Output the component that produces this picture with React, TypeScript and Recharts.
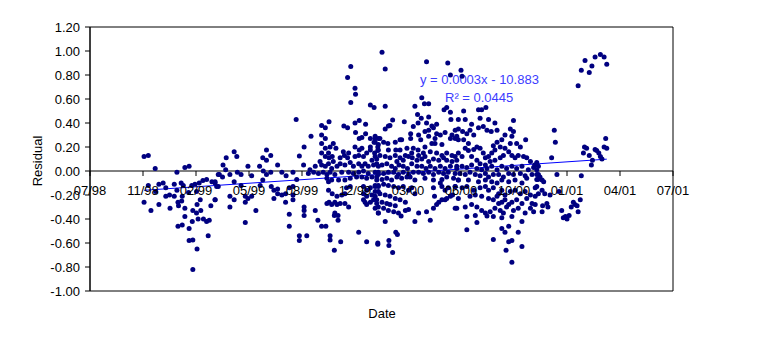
import React from "react";
import {
  Customized,
  ReferenceArea,
  ReferenceLine,
  Scatter,
  ScatterChart,
  XAxis,
  YAxis,
} from "recharts";

// Excel date serial of the axis minimum (24 Jul 1998); data days are offsets from it
const DATE_ORIGIN = 36000;

// [day offset, residual]
const late1998 = [
  [102, 0.12], [110, 0.13], [123, 0.02], [164, -0.01], [179, 0.03], [187, 0.04], [242, -0.03],
  [110, -0.12], [124, -0.17], [130, -0.11], [138, -0.1], [143, -0.14], [143, -0.21], [150, -0.2],
  [159, -0.21], [159, -0.11], [164, -0.16], [172, -0.1], [176, -0.12], [174, -0.21], [186, -0.18],
  [192, -0.12], [198, -0.11], [206, -0.1], [213, -0.08], [220, -0.07], [230, -0.09], [236, -0.1],
  [102, -0.26], [115, -0.33], [130, -0.28], [151, -0.31], [166, -0.26], [167, -0.29], [173, -0.25],
  [179, -0.31], [179, -0.38], [166, -0.46], [174, -0.45], [187, -0.48], [187, -0.58], [194, -0.575],
  [194, -0.33], [201, -0.35], [202, -0.28], [204, -0.4], [193, -0.42], [209, -0.33], [214, -0.4],
  [220, -0.42], [225, -0.41], [228, -0.29], [208, -0.24], [236, -0.24], [223, -0.54], [202, -0.65],
  [194, -0.82], [201, -0.17], [239, -0.13],
];

const mid1999 = [
  [389, 0.43], [395, 0.125], [272, 0.16], [277, 0.12], [257, 0.11], [251, 0.05], [256, 0.01],
  [244, -0.03], [250, -0.05], [264, -0.03], [272, -0.09], [278, -0.01], [285, -0.03], [298, 0.04],
  [305, -0.04], [320, 0.04], [326, 0.11], [333, 0.175], [333, 0.09], [341, 0.13], [327, 0.0],
  [333, -0.03], [341, -0.01], [326, -0.075], [321, -0.12], [354, 0.05], [362, -0.01], [370, -0.04],
  [383, -0.01], [390, -0.07], [383, -0.13], [236, -0.09], [242, -0.13], [236, -0.24], [264, -0.21],
  [264, -0.3], [272, -0.24], [285, -0.12], [293, -0.21], [298, -0.23], [293, -0.26], [305, -0.21],
  [313, -0.33], [293, -0.43], [342, -0.13], [347, -0.16], [347, -0.23], [354, -0.15], [354, -0.19],
  [362, -0.2], [369, -0.19], [369, -0.26], [376, -0.14], [383, -0.2], [383, -0.24], [376, -0.36],
  [376, -0.46], [395, -0.54], [395, -0.58],
];

const late1999 = [
  [492, 0.87], [486, 0.78], [500, 0.69], [501, 0.64], [492, 0.57], [529, 0.55], [536, 0.53],
  [417, 0.29], [404, 0.2], [403, 0.05], [437, 0.38], [444, 0.36], [451, 0.41], [479, 0.375],
  [486, 0.36], [500, 0.4], [508, 0.42], [520, 0.39], [501, 0.32], [520, 0.31], [513, 0.28],
  [508, 0.27], [529, 0.27], [538, 0.27], [544, 0.27], [536, 0.24], [543, 0.2], [529, 0.2],
  [437, 0.3], [444, 0.27], [437, 0.23], [444, 0.19], [453, 0.2], [459, 0.23], [464, 0.19],
  [450, 0.15], [437, 0.15], [444, 0.12], [451, 0.11], [457, 0.12], [459, 0.08], [472, 0.11],
  [478, 0.16], [480, 0.13], [488, 0.15], [486, 0.11], [500, 0.2], [508, 0.175], [513, 0.19],
  [500, 0.12], [507, 0.13], [516, 0.12], [522, 0.15], [529, 0.175], [537, 0.15], [543, 0.17],
  [541, 0.1], [532, 0.09], [425, 0.04], [434, 0.08], [437, 0.05], [444, 0.04], [450, 0.06],
  [456, 0.02], [466, 0.04], [472, 0.06], [481, 0.05], [491, 0.07], [497, 0.04], [507, 0.06],
  [513, 0.04], [519, 0.06], [525, 0.04], [535, 0.05], [544, 0.04], [415, 0.01], [412, -0.02],
  [422, -0.01], [431, -0.02], [440, -0.01], [447, -0.03], [453, -0.01], [462, -0.03], [475, -0.01],
  [488, -0.01], [497, -0.02], [507, -0.01], [516, 0.0], [525, -0.02], [538, -0.01], [544, -0.03],
  [513, -0.05], [522, -0.06], [532, -0.05], [503, -0.05], [450, -0.09], [456, -0.075], [447, -0.06],
  [469, -0.075], [481, -0.075], [491, -0.06], [541, -0.075], [450, -0.16], [457, -0.19], [466, -0.21],
  [475, -0.2], [481, -0.19], [484, -0.14], [491, -0.13], [516, -0.13], [522, -0.16], [529, -0.14],
  [538, -0.13], [544, -0.12], [516, -0.19], [522, -0.21], [532, -0.2], [538, -0.21], [544, -0.17],
  [535, -0.24], [541, -0.27], [529, -0.26], [519, -0.26], [522, -0.28], [516, -0.24], [447, -0.27],
  [451, -0.26], [456, -0.28], [462, -0.26], [466, -0.28], [472, -0.27], [481, -0.27], [488, -0.3],
  [462, -0.35], [468, -0.37], [468, -0.41], [461, -0.37], [544, -0.35], [538, -0.31], [404, -0.3],
  [404, -0.33], [404, -0.37], [425, -0.33], [430, -0.41], [437, -0.46], [445, -0.46], [409, -0.54],
  [453, -0.54], [453, -0.575], [461, -0.66], [473, -0.59], [507, -0.51], [522, -0.59], [543, -0.61],
];

const early2000 = [
  [551, 0.99], [557, 0.85], [635, 0.91], [675, 0.9], [680, 0.8], [626, 0.61], [631, 0.56],
  [639, 0.56], [557, 0.54], [613, 0.54], [668, 0.51], [673, 0.53], [680, 0.49], [681, 0.43],
  [695, 0.43], [571, 0.425], [566, 0.38], [557, 0.35], [563, 0.375], [593, 0.41], [618, 0.47],
  [625, 0.44], [639, 0.45], [619, 0.4], [610, 0.37], [635, 0.4], [645, 0.375], [654, 0.39],
  [648, 0.36], [639, 0.34], [632, 0.33], [654, 0.31], [661, 0.3], [670, 0.32], [683, 0.3],
  [689, 0.34], [692, 0.29], [680, 0.27], [605, 0.31], [605, 0.27], [620, 0.3], [624, 0.26],
  [639, 0.29], [651, 0.27], [645, 0.23], [632, 0.2], [651, 0.23], [664, 0.22], [538, 0.29],
  [547, 0.27], [538, 0.24], [554, 0.24], [544, 0.22], [562, 0.23], [576, 0.24], [585, 0.26],
  [588, 0.26], [598, 0.19], [610, 0.19], [619, 0.175], [544, 0.175], [563, 0.175], [577, 0.175],
  [585, 0.175], [595, 0.13], [607, 0.15], [620, 0.13], [629, 0.15], [642, 0.16], [654, 0.15],
  [664, 0.13], [673, 0.15], [683, 0.13], [689, 0.12], [538, 0.12], [547, 0.13], [557, 0.12],
  [566, 0.11], [576, 0.13], [579, 0.08], [585, 0.11], [591, 0.09], [601, 0.12], [608, 0.11],
  [617, 0.09], [626, 0.1], [632, 0.12], [639, 0.08], [648, 0.1], [658, 0.09], [667, 0.11],
  [673, 0.09], [683, 0.08], [692, 0.09], [541, 0.06], [551, 0.05], [560, 0.06], [569, 0.04],
  [576, 0.02], [583, 0.05], [591, 0.04], [599, 0.02], [607, 0.06], [617, 0.04], [626, 0.04],
  [634, 0.02], [642, 0.04], [651, 0.02], [661, 0.04], [670, 0.02], [680, 0.04], [692, 0.02],
  [544, -0.01], [554, -0.02], [563, -0.01], [573, -0.01], [582, -0.03], [591, -0.01], [601, -0.03],
  [610, -0.01], [620, -0.01], [629, -0.02], [639, -0.01], [648, -0.03], [658, -0.01], [667, -0.02],
  [676, -0.01], [689, -0.02], [541, -0.05], [551, -0.07], [560, -0.06], [569, -0.075], [579, -0.05],
  [588, -0.06], [598, -0.05], [604, -0.05], [613, -0.075], [632, -0.06], [648, -0.075], [664, -0.07],
  [673, -0.05], [686, -0.06], [695, -0.075], [538, -0.12], [544, -0.13], [554, -0.11], [563, -0.12],
  [573, -0.13], [582, -0.14], [591, -0.13], [601, -0.16], [607, -0.14], [613, -0.19], [538, -0.17],
  [547, -0.19], [557, -0.2], [566, -0.21], [576, -0.23], [585, -0.24], [595, -0.26], [541, -0.24],
  [551, -0.26], [560, -0.27], [566, -0.28], [576, -0.29], [544, -0.3], [554, -0.31], [563, -0.33],
  [573, -0.34], [582, -0.35], [587, -0.375], [595, -0.33], [601, -0.32], [544, -0.35], [557, -0.42],
  [613, -0.42], [620, -0.35], [635, -0.34], [642, -0.41], [648, -0.31], [654, -0.28], [658, -0.26],
  [664, -0.24], [670, -0.24], [673, -0.23], [680, -0.21], [684, -0.2], [689, -0.31], [648, -0.14],
  [661, -0.1], [664, -0.13], [670, -0.16], [676, -0.14], [689, -0.13], [650, -0.21], [577, -0.51],
  [580, -0.53], [564, -0.58], [564, -0.62], [543, -0.6], [571, -0.68],
];

const late2000 = [
  [700, 0.84], [702, 0.79], [733, 0.51], [739, 0.51], [747, 0.53], [736, 0.44], [705, 0.5],
  [708, 0.43], [720, 0.39], [752, 0.43], [764, 0.4], [799, 0.42], [793, 0.35], [799, 0.33],
  [695, 0.35], [703, 0.33], [711, 0.31], [717, 0.34], [724, 0.3], [733, 0.36], [742, 0.37],
  [749, 0.34], [757, 0.33], [768, 0.34], [783, 0.3], [796, 0.29], [822, 0.26], [805, 0.23],
  [812, 0.2], [793, 0.23], [777, 0.26], [768, 0.24], [761, 0.21], [689, 0.27], [695, 0.26],
  [705, 0.26], [714, 0.23], [708, 0.19], [714, 0.17], [724, 0.18], [730, 0.2], [736, 0.19],
  [742, 0.15], [746, 0.11], [752, 0.12], [758, 0.15], [764, 0.175], [774, 0.2], [783, 0.19],
  [790, 0.16], [796, 0.13], [802, 0.11], [808, 0.13], [818, 0.12], [824, 0.11], [831, 0.08],
  [839, 0.05], [843, 0.07], [695, 0.15], [702, 0.12], [720, 0.12], [730, 0.09], [736, 0.06],
  [746, 0.05], [755, 0.08], [764, 0.09], [774, 0.11], [780, 0.13], [692, 0.04], [702, 0.04],
  [711, 0.03], [720, 0.05], [730, 0.02], [739, 0.01], [749, 0.02], [758, 0.04], [768, 0.01],
  [777, 0.04], [786, 0.02], [796, 0.04], [805, 0.02], [815, 0.04], [827, 0.01], [837, 0.03],
  [846, 0.04], [698, -0.02], [708, -0.03], [717, -0.01], [727, -0.03], [736, -0.04], [746, -0.02],
  [752, -0.05], [761, -0.03], [771, -0.03], [780, -0.05], [790, -0.02], [799, -0.03], [812, -0.02],
  [821, -0.04], [834, -0.03], [843, -0.03], [695, -0.075], [714, -0.075], [733, -0.09], [746, -0.075],
  [758, -0.09], [768, -0.1], [777, -0.075], [790, -0.09], [802, -0.075], [815, -0.1], [824, -0.06],
  [843, -0.07], [689, -0.13], [702, -0.14], [711, -0.13], [724, -0.16], [736, -0.14], [746, -0.13],
  [752, -0.16], [761, -0.14], [771, -0.19], [777, -0.16], [783, -0.2], [793, -0.17], [802, -0.16],
  [812, -0.19], [821, -0.17], [831, -0.2], [840, -0.14], [846, -0.19], [717, -0.21], [727, -0.2],
  [739, -0.21], [752, -0.23], [761, -0.24], [768, -0.21], [771, -0.27], [777, -0.26], [783, -0.24],
  [790, -0.28], [796, -0.26], [805, -0.24], [815, -0.27], [824, -0.23], [834, -0.27], [840, -0.28],
  [695, -0.23], [692, -0.31], [708, -0.3], [720, -0.28], [730, -0.3], [739, -0.33], [746, -0.35],
  [755, -0.34], [764, -0.31], [774, -0.33], [780, -0.35], [786, -0.3], [799, -0.33], [808, -0.31],
  [821, -0.35], [831, -0.31], [837, -0.34], [711, -0.38], [727, -0.37], [749, -0.375], [761, -0.38],
  [777, -0.39], [796, -0.38], [790, -0.46], [777, -0.48], [783, -0.51], [815, -0.42], [808, -0.51],
  [730, -0.43], [711, -0.49], [761, -0.57], [790, -0.59], [796, -0.58], [815, -0.63], [785, -0.66],
  [796, -0.76],
];

const early2001 = [
  [934, 0.92], [953, 0.95], [963, 0.97], [970, 0.95], [947, 0.875], [927, 0.84], [942, 0.82],
  [975, 0.89], [921, 0.71], [876, 0.34], [878, 0.24], [973, 0.27], [871, 0.11], [933, 0.2],
  [937, 0.19], [931, 0.15], [942, 0.13], [953, 0.18], [956, 0.17], [960, 0.15], [970, 0.2],
  [975, 0.19], [948, 0.09], [946, 0.05], [963, 0.12], [966, 0.1], [843, 0.01], [846, -0.03],
  [849, -0.05], [845, -0.07], [853, -0.075], [856, -0.09], [843, -0.13], [853, -0.16], [858, -0.19],
  [868, -0.2], [881, -0.03], [927, -0.04], [885, -0.17], [854, -0.29], [862, -0.27], [864, -0.3],
  [853, -0.34], [890, -0.33], [897, -0.38], [900, -0.4], [893, -0.39], [904, -0.37], [908, -0.3],
  [912, -0.26], [915, -0.28], [919, -0.29], [925, -0.24], [921, -0.34], [840, -0.21],
];

const X_TICKS = [36000, 36100, 36200, 36300, 36400, 36500, 36600, 36700, 36800, 36900, 37000, 37100];
const X_TICK_LABELS = ["07/98", "11/98", "02/99", "05/99", "08/99", "12/99", "03/00", "06/00", "10/00", "01/01", "04/01", "07/01"];
const Y_TICKS = [-1, -0.8, -0.6, -0.4, -0.2, 0, 0.2, 0.4, 0.6, 0.8, 1.0, 1.2];

// linear trend as reported by the spreadsheet
const TREND_SLOPE = 0.000297;
const TREND_INTERCEPT = -10.883;
const TREND_EQUATION = "y = 0.0003x - 10.883";
const TREND_R2 = "R² = 0.0445";

const residuals = [...late1998, ...mid1999, ...late1999, ...early2000, ...late2000, ...early2001].map(
  ([d, r]) => ({ x: DATE_ORIGIN + d, y: r })
);

const xs = residuals.map((p) => p.x);
const trendStart = Math.min(...xs);
const trendEnd = Math.max(...xs);

const W = 771;
const H = 349;
const FONT = "'Liberation Sans', Arial, sans-serif";
const M = { top: 27, right: 98, bottom: 38, left: 0 };
const Y_AXIS_W = 90;
const X_AXIS_H = 20;
const PLOT_H = H - M.top - M.bottom - X_AXIS_H;
const Y_MIN = -1;
const Y_MAX = 1.2;
const ZERO_Y = M.top + (PLOT_H * Y_MAX) / (Y_MAX - Y_MIN);

// small navy blob, like Excel's default marker at this size
const Dot = (props: any) => {
  const { cx, cy } = props;
  return <circle cx={cx} cy={cy} r={2.5} fill="#000080" />;
};

const DateTick = (props: any) => {
  const { x, index } = props;
  return (
    <g>
      <line x1={x} y1={ZERO_Y} x2={x} y2={ZERO_Y + 5} stroke="#000" />
      <text x={x} y={ZERO_Y + 24} textAnchor="middle" fontSize={13} fontFamily={FONT} fill="#000">
        {X_TICK_LABELS[index]}
      </text>
    </g>
  );
};

const Annotations = () => (
  <g fontFamily={FONT} fontSize={13}>
    <text x={420} y={84} fill="#3c3cff">{TREND_EQUATION}</text>
    <text x={445} y={102} fill="#3c3cff">{TREND_R2}</text>
    <text transform="translate(42,161) rotate(-90)" textAnchor="middle" fill="#000">Residual</text>
    <text x={382} y={318} textAnchor="middle" fill="#000">Date</text>
  </g>
);

export default function App() {
  return (
    <div style={{ position: "absolute", left: 0, top: 0, width: W, height: H, background: "#fff" }}>
      <ScatterChart width={W} height={H} margin={M}>
        <XAxis
          type="number"
          dataKey="x"
          domain={[36000, 37100]}
          ticks={X_TICKS}
          interval={0}
          height={X_AXIS_H}
          axisLine={false}
          tickLine={false}
          tick={<DateTick />}
        />
        <YAxis
          type="number"
          dataKey="y"
          domain={[Y_MIN, Y_MAX]}
          ticks={Y_TICKS}
          interval={0}
          width={Y_AXIS_W}
          axisLine={{ stroke: "#000" }}
          tickLine={{ stroke: "#000" }}
          tickSize={5}
          tickMargin={5}
          tickFormatter={(v: number) => v.toFixed(2)}
          tick={{ fontSize: 13, fontFamily: FONT, fill: "#000" }}
        />
        <ReferenceArea x1={36000} x2={37100} y1={Y_MIN} y2={Y_MAX} fill="none" stroke="#000" strokeOpacity={1} />
        <ReferenceLine y={0} stroke="#000" />
        <Scatter data={residuals} shape={<Dot />} isAnimationActive={false} />
        <ReferenceLine
          segment={[
            { x: trendStart, y: TREND_SLOPE * trendStart + TREND_INTERCEPT },
            { x: trendEnd, y: TREND_SLOPE * trendEnd + TREND_INTERCEPT },
          ]}
          stroke="#0000ff"
        />
        <Customized component={Annotations} />
      </ScatterChart>
    </div>
  );
}
